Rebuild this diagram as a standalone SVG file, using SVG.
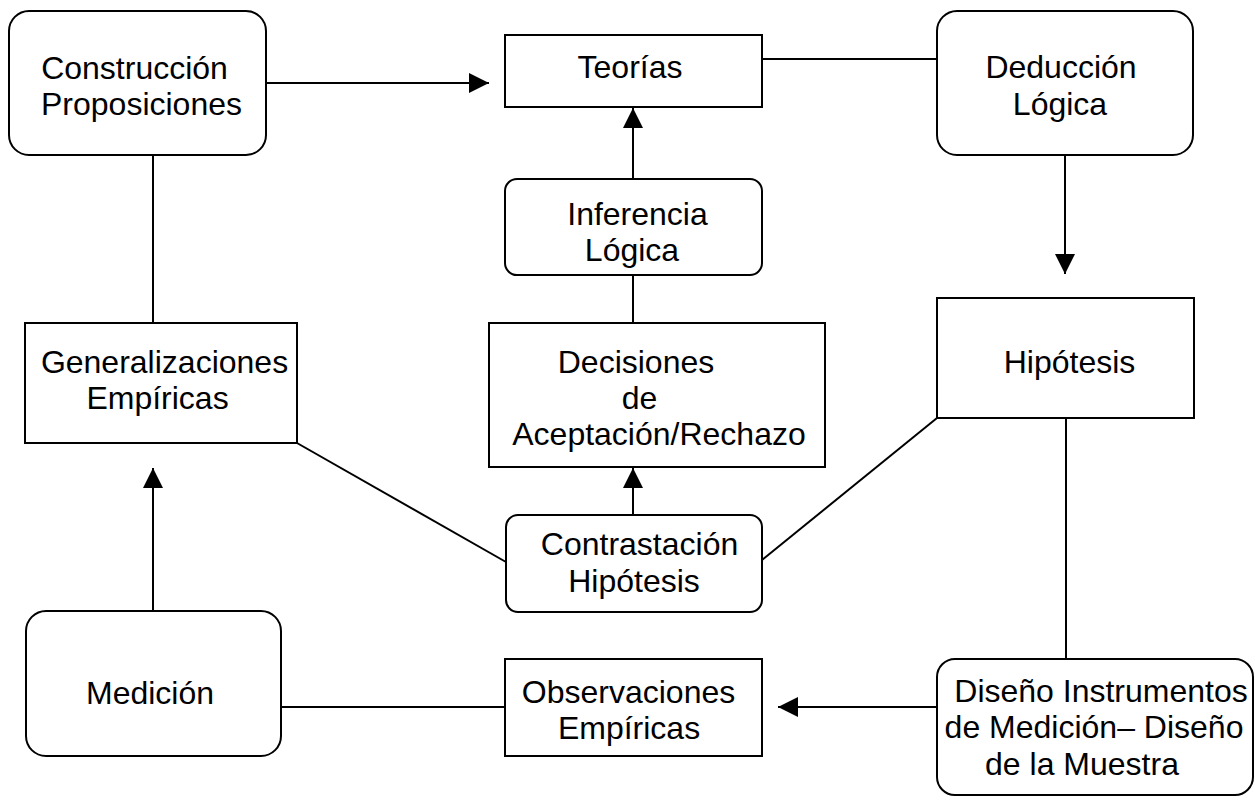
<svg xmlns="http://www.w3.org/2000/svg" width="1255" height="800" viewBox="0 0 1255 800">
<style>
.box{fill:#fff;stroke:#000;stroke-width:2}
.ln{fill:none;stroke:#000;stroke-width:2}
text{font-family:"Liberation Sans",Arial,sans-serif;font-size:32px;fill:#000;text-anchor:middle}
</style>
<defs>
<marker id="ah" viewBox="0 0 20 20" refX="20" refY="10" markerWidth="20" markerHeight="20" markerUnits="userSpaceOnUse" orient="auto">
<path d="M0,0 L20,10 L0,20 Z" fill="#000"/>
</marker>
</defs>
<rect width="1255" height="800" fill="#fff"/>
<g id="connectors">
<line class="ln" x1="266" y1="83" x2="489" y2="83" marker-end="url(#ah)"/>
<line class="ln" x1="762" y1="59" x2="937" y2="59"/>
<line class="ln" x1="633" y1="179" x2="633" y2="108" marker-end="url(#ah)"/>
<line class="ln" x1="633" y1="275" x2="633" y2="323"/>
<line class="ln" x1="1065" y1="155" x2="1065" y2="274" marker-end="url(#ah)"/>
<line class="ln" x1="153" y1="155" x2="153" y2="323"/>
<line class="ln" x1="153" y1="611" x2="153" y2="468" marker-end="url(#ah)"/>
<line class="ln" x1="633" y1="515" x2="633" y2="468" marker-end="url(#ah)"/>
<line class="ln" x1="297" y1="443" x2="506" y2="562"/>
<line class="ln" x1="937" y1="418" x2="762" y2="560"/>
<line class="ln" x1="1066" y1="418" x2="1066" y2="659"/>
<line class="ln" x1="281" y1="707" x2="505" y2="707"/>
<line class="ln" x1="937" y1="707" x2="778" y2="707" marker-end="url(#ah)"/>
</g>
<g id="construccion">
<rect class="box" x="9" y="11" width="257" height="144" rx="20"/>
<text x="134.5" y="79">Construcción</text>
<text x="141.5" y="115">Proposiciones</text>
</g>
<g id="teorias">
<rect class="box" x="505" y="35" width="257" height="72"/>
<text x="630" y="78">Teorías</text>
</g>
<g id="deduccion">
<rect class="box" x="937" y="11" width="256" height="144" rx="20"/>
<text x="1061" y="78">Deducción</text>
<text x="1060" y="115">Lógica</text>
</g>
<g id="inferencia">
<rect class="box" x="505" y="179" width="257" height="96" rx="12"/>
<text x="637.5" y="225">Inferencia</text>
<text x="632" y="261">Lógica</text>
</g>
<g id="generalizaciones">
<rect class="box" x="25" y="323" width="272" height="120"/>
<text x="164.5" y="373">Generalizaciones</text>
<text x="157.5" y="409">Empíricas</text>
</g>
<g id="decisiones">
<rect class="box" x="489" y="323" width="336" height="144"/>
<text x="636" y="373">Decisiones</text>
<text x="639.5" y="409">de</text>
<text x="659" y="445">Aceptación/Rechazo</text>
</g>
<g id="hipotesis">
<rect class="box" x="937" y="298" width="257" height="120"/>
<text x="1069.5" y="373">Hipótesis</text>
</g>
<g id="contrastacion">
<rect class="box" x="506" y="515" width="256" height="97" rx="12"/>
<text x="639.5" y="555">Contrastación</text>
<text x="634" y="592">Hipótesis</text>
</g>
<g id="medicion">
<rect class="box" x="26" y="611" width="255" height="145" rx="20"/>
<text x="150" y="704">Medición</text>
</g>
<g id="observaciones">
<rect class="box" x="505" y="659" width="257" height="97"/>
<text x="628.5" y="703">Observaciones</text>
<text x="629" y="739">Empíricas</text>
</g>
<g id="diseno">
<rect class="box" x="937" y="659" width="316" height="136" rx="18"/>
<text x="1101" y="702">Diseño Instrumentos</text>
<text x="1094" y="738">de Medición– Diseño</text>
<text x="1082" y="775">de la Muestra</text>
</g>
</svg>
